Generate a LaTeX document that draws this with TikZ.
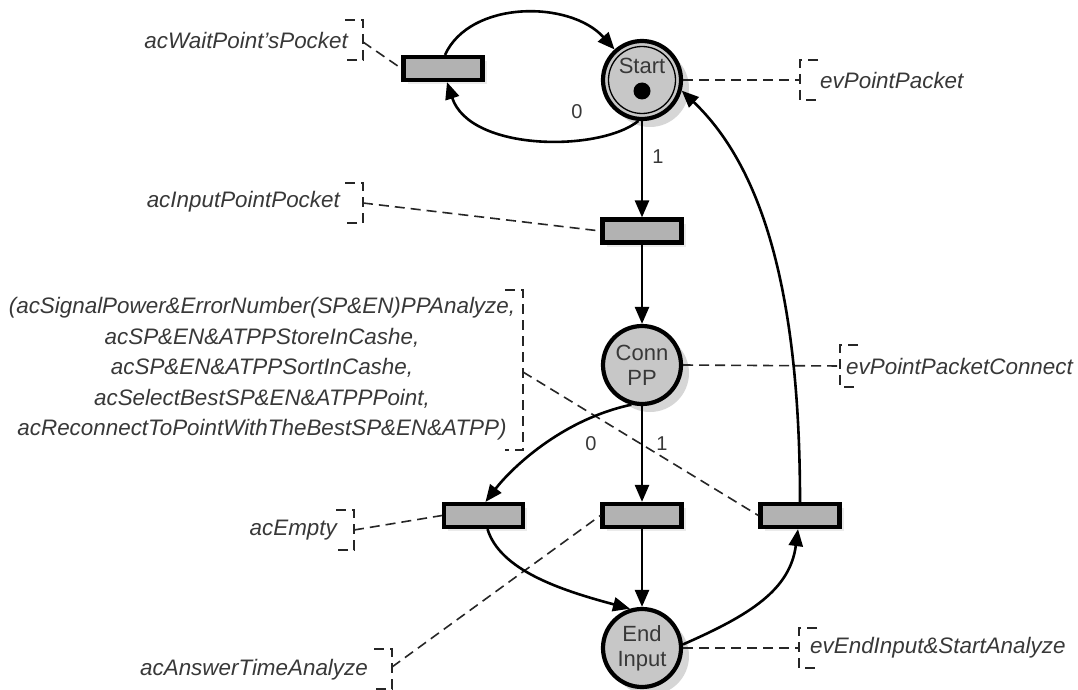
\documentclass[tikz,border=0pt]{standalone}
\usepackage{fontspec}
\setmainfont{Liberation Sans}
\usetikzlibrary{arrows.meta,shadows,calc}
\definecolor{placefill}{gray}{0.78}
\definecolor{transfill}{gray}{0.70}
\definecolor{txt}{gray}{0.22}
\newcommand{\LBr}[3]{\draw[anno] (#1-18,#2-#3) -- (#1,#2-#3) -- (#1,#2+#3) -- (#1-18,#2+#3);}
\newcommand{\RBr}[3]{\draw[anno] (#1+18,#2-#3) -- (#1,#2-#3) -- (#1,#2+#3) -- (#1+18,#2+#3);}
\tikzset{
  place/.style={circle, draw=black, line width=4.2pt, fill=placefill, minimum size=78pt,
    inner sep=0pt, text=txt, font=\fontsize{22}{25}\selectfont, align=center,
    drop shadow={shadow xshift=8pt, shadow yshift=-8pt, fill=black!16, opacity=1}},
  trans/.style={rectangle, draw=black, line width=4.2pt, fill=transfill,
    minimum width=79pt, minimum height=23pt, inner sep=0pt,
    drop shadow={shadow xshift=4pt, shadow yshift=-4pt, fill=black!8, opacity=1}},
  arc/.style={line width=2.6pt, -{Triangle[length=17pt,width=14pt]}},
  anno/.style={line width=1.6pt, dash pattern=on 10pt off 6pt, draw=black!85},
  lab/.style={font=\fontsize{22.4}{30.5}\selectfont\itshape, text=txt, inner sep=0pt},
  num/.style={font=\fontsize{20}{24}\selectfont, text=txt, inner sep=0pt}
}
\begin{document}
\begin{tikzpicture}[x=1pt,y=-1pt]
\useasboundingbox[fill=white] (0,0) rectangle (1078,690);

% places and transitions
\node[place] (S) at (642,80) {};
\node[text=txt, font=\fontsize{22}{25}\selectfont, inner sep=0pt] (Stxt) at (642,66) {Start};
\node[circle, fill=black, minimum size=17pt, inner sep=0pt] (tok) at (642,91) {};
\draw[line width=1.3pt] (S.center) circle (33.5pt);
\node[trans] (T1) at (443,68.5) {};
\node[trans] (T2) at (642,231) {};
\node[place] (C) at (642,365) {Conn\\PP};
\node[trans] (T3) at (483.5,515.5) {};
\node[trans] (T4) at (642,515.5) {};
\node[trans] (T5) at (800,515.5) {};
\node[place] (E) at (642,648) {End\\Input};

% annotation labels
\node[lab, anchor=east] (LW) at (348,40) {acWaitPoint’sPocket};
\node[lab, anchor=east] (LI) at (340,202) {acInputPointPocket};
\node[lab, align=center] (LB) at (262,369) {(acSignalPower\&ErrorNumber(SP\&EN)PPAnalyze,\\
acSP\&EN\&ATPPStoreInCashe,\\
acSP\&EN\&ATPPSortInCashe,\\
acSelectBestSP\&EN\&ATPPPoint,\\
acReconnectToPointWithTheBestSP\&EN\&ATPP)};
\node[lab, anchor=east] (LE) at (337,530) {acEmpty};
\node[lab, anchor=east] (LA) at (368,670) {acAnswerTimeAnalyze};
\node[lab, anchor=west] (RS) at (820,80) {evPointPacket};
\node[lab, anchor=west] (RC) at (846,366) {evPointPacketConnect};
\node[lab, anchor=west] (RE) at (810,648) {evEndInput\&StartAnalyze};

% brackets
\LBr{363}{40}{20}
\LBr{363}{203}{20}
\LBr{523}{370}{80}
\LBr{354}{530}{20}
\LBr{392}{669}{20}
\RBr{800}{80}{20}
\RBr{840}{366}{21}
\RBr{799}{648}{20}
\coordinate (BW) at (363,42);
\coordinate (BI) at (363,203);
\coordinate (BB) at (523,372);
\coordinate (BE) at (354,530);
\coordinate (BA) at (392,667);
\coordinate (BS) at (800,80);
\coordinate (BC) at (840,366);
\coordinate (BN) at (799,648);

% dashed annotation connectors
\draw[anno] (BW) -- (T1.west);
\draw[anno] (BI) -- (T2.west);
\draw[anno] (BB) -- (T5.west);
\draw[anno] (BE) -- (T3.west);
\draw[anno] (BA) -- (T4.west);
\draw[anno] (S.east) -- (BS);
\draw[anno] (C.east) -- (BC);
\draw[anno] (E.east) -- (BN);

% arcs
\draw[arc] ([xshift=2pt]T1.north) .. controls (470,0) and (570,0) .. (S.132);
\draw[arc] (S.265) .. controls (600,152) and (470,152) .. ([xshift=4pt]T1.south);
\draw[arc] (S.south) -- (T2.north);
\draw[arc] (T2.south) -- (C.north);
\draw[arc] (C.south) -- (T4.north);
\draw[arc] (T4.south) -- (E.north);
\draw[arc] (C.255) .. controls (560,420) and (510,470) .. ([xshift=2pt]T3.north);
\draw[arc] ([xshift=4pt]T3.south) .. controls (500,570) and (560,590) .. (E.107);
\draw[arc] (E.5) .. controls (750,615) and (790,590) .. ([xshift=-2pt]T5.south);
\draw[arc] (T5.north) .. controls (800,300) and (765,170) .. (S.-15);

% arc inscriptions
\node[num] (n0a) at (577,112) {0};
\node[num] (n1a) at (658,157) {1};
\node[num] (n0b) at (591,444) {0};
\node[num] (n1b) at (662,444) {1};
\end{tikzpicture}
\end{document}
